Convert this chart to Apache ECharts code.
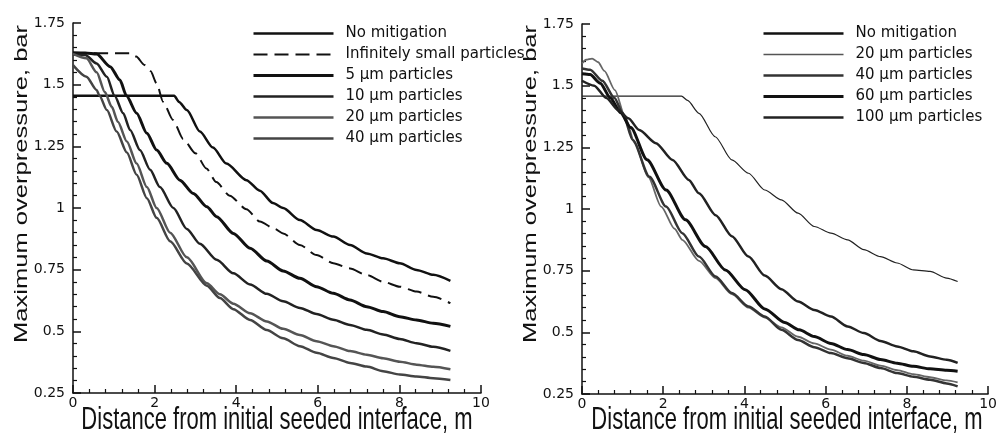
<!DOCTYPE html>
<html>
<head>
<meta charset="utf-8">
<style>
  html, body { margin: 0; padding: 0; background: #fff; }
  #chart { width: 1000px; height: 439px; }
</style>
<script src="https://cdn.jsdelivr.net/npm/echarts@6/dist/echarts.min.js"></script>
</head>
<body>
<div id="chart"></div>
<script>
// ---- Left panel data: [distance (m), max overpressure (bar)] ----
const noMitL = [[0,1.455],[2.48,1.455],[2.6,1.43],[2.79,1.397],[3.11,1.31],[3.43,1.245],[3.76,1.18],[4.25,1.113],[4.58,1.07],[4.9,1.02],[5.15,1.0],[5.56,0.951],[5.97,0.911],[6.38,0.884],[6.79,0.85],[7.2,0.816],[7.6,0.796],[8.01,0.776],[8.42,0.749],[8.83,0.729],[9.25,0.705]];
const infSmallL = [[0,1.627],[1.4,1.627],[1.55,1.614],[1.75,1.58],[1.9,1.555],[2.05,1.505],[2.21,1.43],[2.45,1.357],[2.7,1.28],[3.0,1.222],[3.27,1.16],[3.51,1.105],[3.84,1.05],[4.25,0.995],[4.58,0.945],[4.95,0.915],[5.15,0.897],[5.56,0.85],[5.97,0.809],[6.38,0.776],[6.79,0.755],[7.2,0.728],[7.6,0.701],[8.01,0.681],[8.42,0.661],[8.83,0.64],[9.25,0.614]];
const p5L = [[0,1.629],[0.3,1.628],[0.58,1.624],[0.91,1.573],[1.15,1.519],[1.31,1.455],[1.56,1.384],[1.81,1.303],[2.05,1.235],[2.3,1.181],[2.62,1.113],[2.95,1.059],[3.28,1.005],[3.52,0.965],[3.93,0.897],[4.34,0.837],[4.75,0.785],[5.15,0.745],[5.56,0.715],[5.97,0.681],[6.38,0.654],[6.79,0.627],[7.2,0.6],[7.6,0.58],[8.01,0.559],[8.42,0.546],[8.83,0.533],[9.25,0.52]];
const p10L = [[0,1.622],[0.3,1.62],[0.58,1.586],[0.83,1.532],[1.02,1.455],[1.23,1.384],[1.4,1.316],[1.64,1.235],[1.89,1.155],[2.13,1.085],[2.46,1.0],[2.79,0.915],[3.11,0.855],[3.52,0.79],[3.93,0.735],[4.34,0.69],[4.75,0.652],[5.15,0.622],[5.56,0.595],[5.97,0.57],[6.38,0.547],[6.79,0.526],[7.2,0.506],[7.6,0.487],[8.01,0.469],[8.42,0.452],[8.83,0.437],[9.25,0.421]];
const p20L = [[0,1.625],[0.33,1.607],[0.58,1.55],[0.78,1.47],[0.95,1.41],[1.1,1.35],[1.32,1.27],[1.56,1.18],[1.81,1.085],[2.05,1.0],[2.38,0.9],[2.79,0.8],[3.28,0.695],[3.6,0.65],[3.93,0.612],[4.34,0.573],[4.75,0.54],[5.15,0.51],[5.56,0.485],[5.97,0.46],[6.38,0.44],[6.79,0.42],[7.2,0.405],[7.6,0.391],[8.01,0.377],[8.42,0.365],[8.83,0.356],[9.25,0.346]];
const p40L = [[0,1.579],[0.33,1.532],[0.58,1.478],[0.65,1.455],[0.83,1.397],[1.07,1.31],[1.32,1.225],[1.56,1.135],[1.81,1.04],[2.05,0.96],[2.38,0.865],[2.79,0.775],[3.28,0.685],[3.6,0.635],[3.93,0.59],[4.34,0.546],[4.75,0.505],[5.15,0.472],[5.56,0.44],[5.97,0.413],[6.38,0.392],[6.79,0.372],[7.2,0.357],[7.6,0.338],[8.01,0.325],[8.42,0.317],[8.83,0.31],[9.25,0.303]];

// ---- Right panel data ----
const noMitR = [[0,1.458],[2.45,1.458],[2.6,1.44],[2.88,1.388],[3.28,1.293],[3.69,1.199],[4.1,1.145],[4.5,1.077],[4.91,1.037],[5.32,0.983],[5.72,0.929],[6.13,0.902],[6.54,0.875],[6.94,0.835],[7.35,0.807],[7.76,0.781],[8.16,0.753],[8.57,0.747],[8.98,0.72],[9.25,0.706]];
const p20R = [[0,1.59],[0.1,1.605],[0.25,1.61],[0.4,1.595],[0.55,1.56],[0.81,1.482],[1.06,1.374],[1.3,1.266],[1.63,1.13],[1.95,1.01],[2.28,0.92],[2.47,0.875],[2.88,0.79],[3.29,0.72],[3.69,0.655],[4.1,0.6],[4.5,0.56],[4.91,0.52],[5.32,0.482],[5.72,0.455],[6.13,0.43],[6.54,0.405],[6.94,0.385],[7.35,0.365],[7.76,0.347],[8.16,0.33],[8.57,0.318],[8.98,0.305],[9.25,0.297]];
const p40R = [[0,1.57],[0.2,1.565],[0.5,1.52],[0.8,1.45],[1.0,1.39],[1.25,1.28],[1.66,1.131],[2.07,1.01],[2.47,0.902],[2.88,0.807],[3.29,0.726],[3.69,0.659],[4.1,0.605],[4.5,0.564],[4.91,0.51],[5.32,0.469],[5.72,0.44],[6.13,0.416],[6.54,0.395],[6.94,0.376],[7.35,0.355],[7.76,0.335],[8.16,0.32],[8.57,0.308],[8.98,0.293],[9.25,0.281]];
const p60R = [[0,1.548],[0.2,1.545],[0.45,1.51],[0.7,1.45],[0.95,1.39],[1.2,1.33],[1.6,1.2],[2.07,1.077],[2.55,0.956],[3.04,0.848],[3.53,0.753],[4.02,0.673],[4.5,0.595],[4.99,0.54],[5.35,0.51],[5.72,0.483],[6.13,0.455],[6.54,0.43],[6.94,0.41],[7.35,0.39],[7.76,0.375],[8.16,0.362],[8.57,0.352],[8.98,0.346],[9.25,0.342]];
const p100R = [[0,1.52],[0.3,1.5],[0.6,1.45],[0.9,1.4],[1.14,1.368],[1.41,1.32],[1.82,1.267],[2.23,1.199],[2.63,1.118],[2.88,1.064],[3.29,0.975],[3.69,0.89],[4.1,0.807],[4.5,0.73],[4.91,0.675],[5.32,0.625],[5.72,0.591],[6.13,0.564],[6.54,0.524],[6.94,0.497],[7.35,0.465],[7.76,0.443],[8.16,0.423],[8.57,0.402],[8.98,0.389],[9.25,0.376]];

const namesL = ['No mitigation', 'Infinitely small particles', '5 \u00b5m particles', '10 \u00b5m particles', '20 \u00b5m particles', '40 \u00b5m particles'];
const namesR = ['No mitigation', '20 \u00b5m particles', '40 \u00b5m particles', '60 \u00b5m particles', '100 \u00b5m particles'];
const xTitle = 'Distance from initial seeded interface, m';
const yTitle = 'Maximum overpressure, bar';

const FONT = 'DejaVu Sans';
const INK = '#111';
const DASH = [14, 7];

function xAxis(gi) {
  return {
    type: 'value', gridIndex: gi, min: 0, max: 10, interval: 2,
    axisLine: { show: true, onZero: false, lineStyle: { color: INK, width: 1.5 } },
    axisTick: { show: true, inside: true, length: 8, lineStyle: { color: INK, width: 1.5 } },
    minorTick: { show: true, splitNumber: 5, length: 4, lineStyle: { color: INK, width: 1.2 } },
    splitLine: { show: false },
    axisLabel: { color: INK, fontFamily: FONT, fontSize: 14, margin: 3 }
  };
}
function yAxis(gi) {
  return {
    type: 'value', gridIndex: gi, min: 0.25, max: 1.75, interval: 0.25,
    axisLine: { show: true, onZero: false, lineStyle: { color: INK, width: 1.5 } },
    axisTick: { show: true, inside: true, length: 8, lineStyle: { color: INK, width: 1.5 } },
    minorTick: { show: true, splitNumber: 5, length: 4, lineStyle: { color: INK, width: 1.2 } },
    splitLine: { show: false },
    axisLabel: { color: INK, fontFamily: FONT, fontSize: 14, margin: 8 }
  };
}
function line(name, data, gi, color, width, type) {
  return {
    type: 'line', name: name, data: data, xAxisIndex: gi, yAxisIndex: gi,
    symbol: 'none', smooth: 0.25, smoothMonotone: 'x', animation: false,
    lineStyle: { color: color, width: width, type: type || 'solid' },
    itemStyle: { color: color }
  };
}
function legendItem(name, color, width, type) {
  return { name: name, itemStyle: { opacity: 0 }, lineStyle: { color: color, width: width, type: type || 'solid' } };
}

const legendBase = {
  orient: 'vertical', itemWidth: 80, itemHeight: 14, itemGap: 6, padding: 0,
  selectedMode: false,
  itemStyle: { opacity: 0 },
  textStyle: { color: INK, fontFamily: FONT, fontSize: 15, padding: [0, 0, 0, 7] }
};

const option = {
  animation: false,
  backgroundColor: '#fff',
  grid: [
    { left: 73, top: 23, width: 408, height: 370 },
    { left: 582, top: 24, width: 410, height: 370 }
  ],
  xAxis: [xAxis(0), xAxis(1)],
  yAxis: [yAxis(0), yAxis(1)],
  legend: [
    Object.assign({}, legendBase, {
      left: 252, top: 26,
      data: [
        legendItem(namesL[0], INK, 2.5),
        legendItem(namesL[1], INK, 2, DASH),
        legendItem(namesL[2], INK, 3),
        legendItem(namesL[3], '#222', 2.5),
        legendItem(namesL[4], '#555', 2.5),
        legendItem(namesL[5], '#444', 2.5)
      ]
    }),
    Object.assign({}, legendBase, {
      left: 762, top: 26,
      data: [
        legendItem(namesR[0], INK, 2.5),
        legendItem(namesR[1], '#555', 1.6),
        legendItem(namesR[2], '#333', 2.5),
        legendItem(namesR[3], INK, 3),
        legendItem(namesR[4], '#222', 2.5)
      ]
    })
  ],
  series: [
    line(namesL[0], noMitL, 0, INK, 2.5),
    line(namesL[1], infSmallL, 0, INK, 2, DASH),
    line(namesL[2], p5L, 0, INK, 3),
    line(namesL[3], p10L, 0, '#222', 2.5),
    line(namesL[4], p20L, 0, '#555', 2.5),
    line(namesL[5], p40L, 0, '#444', 2.5),
    line(namesR[0], noMitR, 1, '#222', 1.2),
    line(namesR[1], p20R, 1, '#666', 1.8),
    line(namesR[2], p40R, 1, '#333', 2.5),
    line(namesR[3], p60R, 1, INK, 3),
    line(namesR[4], p100R, 1, '#222', 2.5)
  ],
  graphic: [
    { type: 'text', x: 277, y: 420, scaleY: 1.45,
      style: { text: xTitle, fill: INK, font: '22px "Liberation Sans"', textAlign: 'center', textVerticalAlign: 'middle' } },
    { type: 'text', x: 787, y: 420, scaleY: 1.45,
      style: { text: xTitle, fill: INK, font: '22px "Liberation Sans"', textAlign: 'center', textVerticalAlign: 'middle' } },
    { type: 'text', x: 22, y: 184, rotation: Math.PI / 2, scaleX: 1.42,
      style: { text: yTitle, fill: INK, font: '18px "Liberation Sans"', textAlign: 'center', textVerticalAlign: 'middle' } },
    { type: 'text', x: 531, y: 184, rotation: Math.PI / 2, scaleX: 1.42,
      style: { text: yTitle, fill: INK, font: '18px "Liberation Sans"', textAlign: 'center', textVerticalAlign: 'middle' } }
  ]
};

const chart = echarts.init(document.getElementById('chart'), null, { renderer: 'canvas' });
chart.setOption(option);
</script>
</body>
</html>
